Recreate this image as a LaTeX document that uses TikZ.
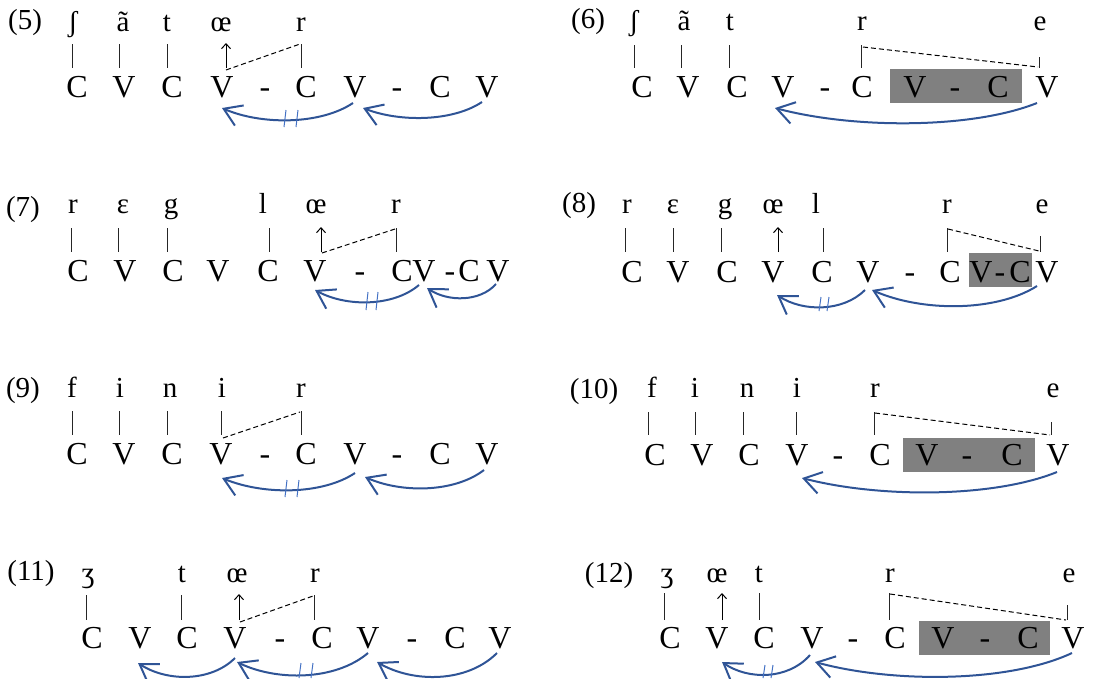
\documentclass[tikz,border=0pt]{standalone}
\usepackage{fontspec}
\setmainfont{Liberation Serif}
\usetikzlibrary{arrows.meta}
\definecolor{arrblue}{RGB}{47,84,150}
\definecolor{hashblue}{RGB}{68,114,196}
\definecolor{boxgray}{RGB}{128,128,128}
\tikzset{
  cv/.style={anchor=base, inner sep=0pt, font=\fontsize{32}{32}\selectfont},
  tl/.style={anchor=base, inner sep=0pt, font=\fontsize{29}{29}\selectfont},
  num/.style={anchor=base, inner sep=0pt, font=\fontsize{29}{29}\selectfont},
  bar/.style={line width=1pt, black!85},
  dsh/.style={line width=1pt, dash pattern=on 5pt off 3pt},
  upar/.style={line width=1pt, -{Straight Barb[length=5pt,width=9pt]}},
  arr/.style={arrblue, line width=2pt, -{Straight Barb[length=17pt,width=22pt]}},
  hash/.style={hashblue, line width=1pt},
  gbox/.style={fill=boxgray, draw=none},
}
\begin{document}
\begin{tikzpicture}[x=1pt,y=-1pt]
\useasboundingbox (0,0) rectangle (1107,678);
% ---------- gray boxes
\fill[gbox] (890,69) rectangle (1022,103);
\fill[gbox] (969,253) rectangle (1032,287);
\fill[gbox] (903,438) rectangle (1035,472);
\fill[gbox] (919,621) rectangle (1050,655);

% ================= (5)
\node[num] (n5) at (25,29) {(5)};
\foreach \x/\t [count=\i] in {73/ʃ,123/ã,167/t,221/œ,301/r}
  \node[tl] (p5t\i) at (\x,31) {\t};
\foreach \x/\t [count=\i] in {77/C,124/V,172/C,222/V,265/-,306/C,355/V,397/-,440/C,487/V}
  \node[cv] (p5c\i) at (\x,97) {\t};
\foreach \x in {72,119,167,301} \draw[bar] (\x,44) -- (\x,68);
\draw[upar] (226,68) -- (226,43);
\draw[dsh] (226,70) -- (300,44);
\draw[arr] ([shift={(-5,5)}]p5c10.base) .. controls (452,122) and (399,122) .. ([shift={(8,11)}]p5c7.base);
\draw[arr] ([shift={(-2,6)}]p5c7.base) .. controls (320,125) and (261,125) .. ([shift={(0,11)}]p5c4.base);
\draw[hash] (286,110) -- (284,127);
\draw[hash] (298,110) -- (296,127);

% ================= (6)
\node[num] (n6) at (588,28) {(6)};
\foreach \x/\t [count=\i] in {634/ʃ,684/ã,730/t,862/r,1040/e}
  \node[tl] (p6t\i) at (\x,30) {\t};
\foreach \x/\t [count=\i] in {642/C,688/V,737/C,783/V,825/-,862/C,915/V,955/-,998/C,1047/V}
  \node[cv] (p6c\i) at (\x,97) {\t};
\foreach \x in {634,681,729,861} \draw[bar] (\x,45) -- (\x,68);
\draw[bar] (1039,57) -- (1039,68);
\draw[dsh] (863,47) -- (1038,67);
\draw[arr] ([shift={(-10,6)}]p6c10.base) .. controls (972,129) and (854,129) .. ([shift={(-8,11)}]p6c4.base);

% ================= (7)
\node[num] (n7) at (23,216) {(7)};
\foreach \x/\t [count=\i] in {73/r,123/ɛ,171/g,263/l,316/œ,396/r}
  \node[tl] (p7t\i) at (\x,213) {\t};
\foreach \x/\t [count=\i] in {78/C,125/V,173/C,218/V,268/C,315/V,360/-,402/C,424/V,450/-,469/C,498/V}
  \node[cv] (p7c\i) at (\x,281) {\t};
\foreach \x in {71,118,167,269,396} \draw[bar] (\x,228) -- (\x,252);
\draw[upar] (321,252) -- (321,227);
\draw[dsh] (322,253) -- (395,229);
\draw[arr] ([shift={(-2,3)}]p7c12.base) .. controls (480,302) and (448,302) .. ([shift={(3,7)}]p7c9.base);
\draw[arr] ([shift={(-5,4)}]p7c9.base) .. controls (393,307) and (346,307) .. ([shift={(0,9)}]p7c6.base);
\draw[hash] (368,292) -- (366,310);
\draw[hash] (378,292) -- (376,310);

% ================= (8)
\node[num] (n8) at (579,212) {(8)};
\foreach \x/\t [count=\i] in {627/r,673/ɛ,725/g,773/œ,816/l,947/r,1042/e}
  \node[tl] (p8t\i) at (\x,213) {\t};
\foreach \x/\t [count=\i] in {632/C,678/V,727/C,773/V,822/C,868/V,910/-,950/C,981/V,1000/-,1020/C,1047/V}
  \node[cv] (p8c\i) at (\x,282) {\t};
\foreach \x in {625,673,721,823,947} \draw[bar] (\x,228) -- (\x,252);
\draw[bar] (1040,236) -- (1040,252);
\draw[upar] (778,252) -- (778,227);
\draw[dsh] (948,229) -- (1039,251);
\draw[arr] ([shift={(-10,4)}]p8c12.base) .. controls (996,312) and (922,312) .. ([shift={(4,8)}]p8c6.base);
\draw[arr] ([shift={(-3,8)}]p8c6.base) .. controls (843,312) and (803,312) .. ([shift={(4,13)}]p8c4.base);
\draw[hash] (821,297) -- (819,311);
\draw[hash] (829,297) -- (827,311);

% ================= (9)
\node[num] (n9) at (23,397) {(9)};
\foreach \x/\t [count=\i] in {72/f,120/i,170/n,222/i,301/r}
  \node[tl] (p9t\i) at (\x,397) {\t};
\foreach \x/\t [count=\i] in {77/C,124/V,172/C,221/V,265/-,306/C,355/V,397/-,440/C,487/V}
  \node[cv] (p9c\i) at (\x,464) {\t};
\foreach \x in {72,119,167,221,301} \draw[bar] (\x,411) -- (\x,435);
\draw[dsh] (223,438) -- (300,412);
\draw[arr] ([shift={(-3,6)}]p9c10.base) .. controls (454,493) and (401,493) .. ([shift={(10,13)}]p9c7.base);
\draw[arr] ([shift={(0,9)}]p9c7.base) .. controls (322,495) and (263,495) .. ([shift={(1,14)}]p9c4.base);
\draw[hash] (287,480) -- (285,497);
\draw[hash] (299,480) -- (297,497);

% ================= (10)
\node[num] (n10) at (594,398) {(10)};
\foreach \x/\t [count=\i] in {652/f,695/i,747/n,797/i,875/r,1053/e}
  \node[tl] (p10t\i) at (\x,397) {\t};
\foreach \x/\t [count=\i] in {655/C,702/V,749/C,797/V,838/-,880/C,927/V,967/-,1012/C,1058/V}
  \node[cv] (p10c\i) at (\x,465) {\t};
\foreach \x in {648,695,743,796,874} \draw[bar] (\x,412) -- (\x,435);
\draw[bar] (1051,422) -- (1051,435);
\draw[dsh] (875,413) -- (1050,435);
\draw[arr] ([shift={(-1,7)}]p10c10.base) .. controls (993,498) and (879,498) .. ([shift={(5,13)}]p10c4.base);

% ================= (11)
\node[num] (n11) at (31,580) {(11)};
\foreach \x/\t [count=\i] in {88/ʒ,182/t,237/œ,315/r}
  \node[tl] (p11t\i) at (\x,582) {\t};
\foreach \x/\t [count=\i] in {92/C,140/V,187/C,235/V,280/-,322/C,368/V,412/-,455/C,500/V}
  \node[cv] (p11c\i) at (\x,648) {\t};
\foreach \x in {86,181,314} \draw[bar] (\x,595) -- (\x,620);
\draw[upar] (239,620) -- (239,594);
\draw[dsh] (240,622) -- (313,596);
\draw[arr] ([shift={(-3,5)}]p11c10.base) .. controls (467,683) and (413,683) .. ([shift={(9,14)}]p11c7.base);
\draw[arr] ([shift={(0,5)}]p11c7.base) .. controls (335,681) and (276,681) .. ([shift={(2,14)}]p11c4.base);
\draw[arr] ([shift={(0,10)}]p11c4.base) .. controls (211,682) and (167,682) .. ([shift={(-2,15)}]p11c2.base);
\draw[hash] (301,663) -- (299,678);
\draw[hash] (313,663) -- (311,678);

% ================= (12)
\node[num] (n12) at (609,582) {(12)};
\foreach \x/\t [count=\i] in {667/ʒ,717/œ,759/t,890/r,1069/e}
  \node[tl] (p12t\i) at (\x,582) {\t};
\foreach \x/\t [count=\i] in {670/C,717/V,764/C,812/V,853/-,895/C,943/V,985/-,1028/C,1073/V}
  \node[cv] (p12c\i) at (\x,648) {\t};
\foreach \x in {664,759,889} \draw[bar] (\x,593) -- (\x,620);
\draw[bar] (1067,605) -- (1067,620);
\draw[upar] (722,620) -- (722,593);
\draw[dsh] (890,594) -- (1066,620);
\draw[arr] ([shift={(-1,5)}]p12c10.base) .. controls (1008,683) and (892,683) .. ([shift={(3,14)}]p12c4.base);
\draw[arr] ([shift={(-2,7)}]p12c4.base) .. controls (788,680) and (748,680) .. ([shift={(5,14)}]p12c2.base);
\draw[hash] (765,665) -- (763,678);
\draw[hash] (773,665) -- (771,678);
\end{tikzpicture}
\end{document}
